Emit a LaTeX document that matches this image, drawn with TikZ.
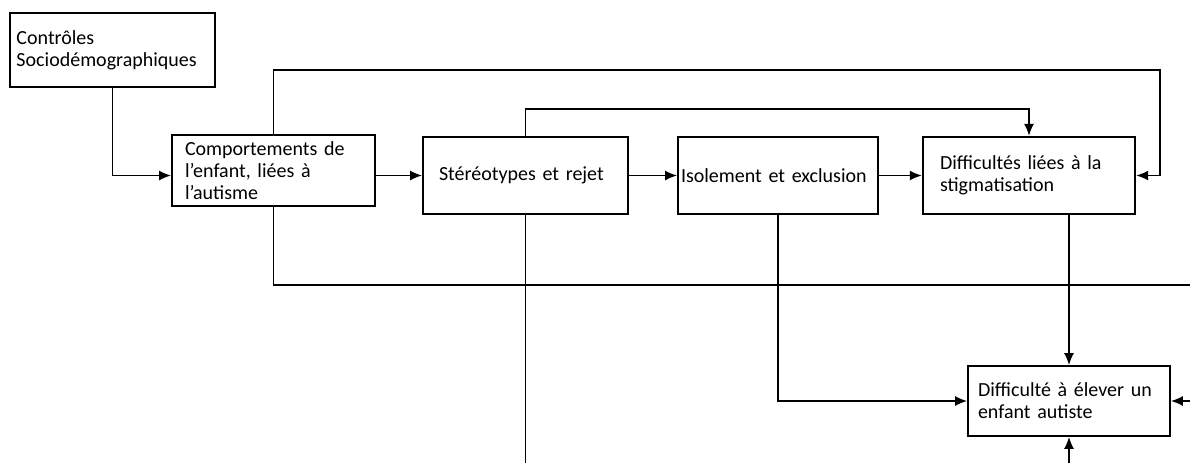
\documentclass[tikz,border=0pt]{standalone}
\usepackage{fontspec}
\setmainfont{Carlito}
\usetikzlibrary{arrows.meta}
\tikzset{
  box/.style={draw, line width=0.9pt, align=left, inner xsep=0pt, font=\fontsize{10}{11}\selectfont},
}
\begin{document}
\begin{tikzpicture}[x=0.5pt, y=-0.5pt, line width=0.75pt, >={Latex[length=6pt,width=5pt]}]
  \useasboundingbox (0,0) rectangle (1190,463);
  \node[box, minimum width=102.5pt, minimum height=37pt, text width=96pt] (ctrl) at (112.5,50) {Contrôles\\Sociodémographiques};
  \node[box, minimum width=101.5pt, minimum height=33.5pt, text width=88.5pt] (comp) at (273.5,170.5) {Comportements de\\l’enfant, liées à\\l’autisme};
  \node[box, minimum width=102.5pt, minimum height=38.5pt, text width=86.5pt] (ster) at (525.5,175.5) {Stéréotypes et rejet};
  \node[box, minimum width=100pt, minimum height=38.5pt, text width=97pt] (isol) at (778,175.5) {Isolement et exclusion};
  \node[box, line width=1.2pt, minimum width=106pt, minimum height=38.5pt, text width=89pt] (diff) at (1029,175.5) {Difficultés liées à la\\stigmatisation};
  \node[box, minimum width=101pt, minimum height=35pt, text width=91pt] (elev) at (1069,401) {Difficulté à élever un\\enfant autiste};
  \coordinate (topR) at (1160,70);
  \coordinate (topM) at (1029,109);
  \coordinate (loR) at (1190,285);
  \coordinate (edgeR) at (1190,0);
  \coordinate (edgeB) at (0,463);
  \draw[->] (ctrl.south) |- (comp.west |- ster.west);
  \draw[->] (comp.east |- ster.west) -- (ster.west);
  \draw[->] (ster.east) -- (isol.west);
  \draw[->] (isol.east) -- (diff.west);
  \draw[->] (comp.north) |- (topR) |- (diff.east);
  \draw[->] (ster.north) |- (topM) -- (diff.north);
  \draw (comp.south) |- (loR);
  \draw (ster.south) -- (ster.south |- edgeB);
  \draw[->] (isol.south) |- (elev.west);
  \draw[->] (diff.south -| elev.north) -- (elev.north);
  \draw[->] (elev.east -| edgeR) -- (elev.east);
  \draw[->] (elev.south |- edgeB) -- (elev.south);
\end{tikzpicture}
\end{document}
